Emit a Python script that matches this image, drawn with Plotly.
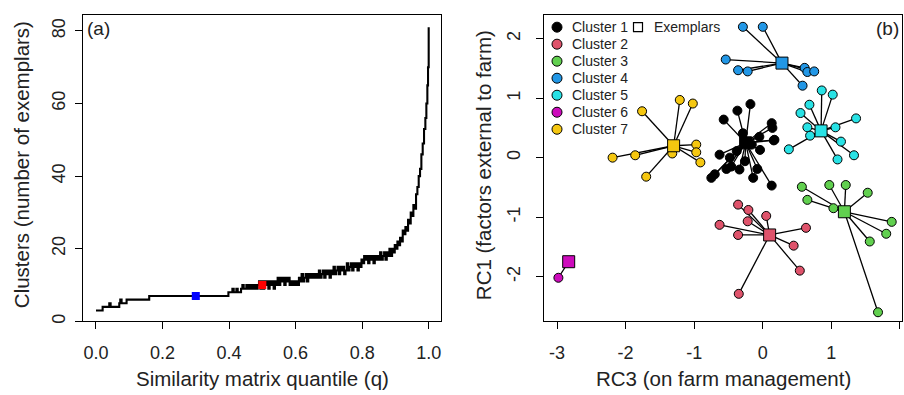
import plotly.graph_objects as go

# ---------------- Panel (a) data ----------------
q_vals = [0.000, 0.020, 0.040, 0.044, 0.070, 0.073, 0.077, 0.092, 0.160, 0.398,
          0.410, 0.414, 0.422, 0.426, 0.436, 0.440, 0.444, 0.452, 0.456, 0.462,
          0.466, 0.470, 0.474, 0.478, 0.482, 0.486, 0.490, 0.494, 0.498, 0.502,
          0.506, 0.510, 0.514, 0.518, 0.522, 0.526, 0.530, 0.534, 0.538, 0.542,
          0.546, 0.550, 0.554, 0.558, 0.562, 0.566, 0.570, 0.574, 0.578, 0.582,
          0.586, 0.590, 0.594, 0.598, 0.602, 0.606, 0.610, 0.614, 0.618, 0.622,
          0.626, 0.630, 0.634, 0.638, 0.642, 0.646, 0.650, 0.654, 0.658, 0.662,
          0.666, 0.670, 0.674, 0.678, 0.682, 0.686, 0.690, 0.694, 0.698, 0.702,
          0.706, 0.710, 0.714, 0.718, 0.722, 0.726, 0.730, 0.734, 0.738, 0.742,
          0.746, 0.750, 0.754, 0.758, 0.762, 0.766, 0.770, 0.774, 0.778, 0.782,
          0.786, 0.790, 0.794, 0.798, 0.802, 0.806, 0.810, 0.814, 0.818, 0.822,
          0.826, 0.830, 0.834, 0.838, 0.842, 0.846, 0.850, 0.854, 0.858, 0.862,
          0.866, 0.870, 0.874, 0.878, 0.882, 0.886, 0.890, 0.894, 0.898, 0.902,
          0.906, 0.910, 0.914, 0.918, 0.922, 0.926, 0.930, 0.934, 0.938, 0.942,
          0.946, 0.950, 0.954, 0.958, 0.962, 0.966, 0.970, 0.974, 0.978, 0.982,
          0.986, 0.990, 0.993, 0.996, 0.998, 1.000]
n_clusters = [3, 4, 5, 4, 5, 6, 5, 6, 7, 8,
              9, 8, 9, 8, 9, 10, 9, 10, 9, 10,
              9, 10, 9, 10, 9, 10, 11, 9, 11, 9,
              11, 10, 11, 9, 11, 10, 11, 9, 11, 10,
              12, 10, 12, 11, 12, 10, 12, 11, 12, 10,
              11, 10, 11, 10, 11, 10, 12, 11, 13, 11,
              12, 13, 11, 13, 12, 13, 12, 13, 12, 13,
              12, 14, 12, 13, 14, 12, 14, 13, 14, 12,
              14, 13, 15, 13, 14, 15, 13, 15, 14, 15,
              13, 14, 16, 14, 15, 16, 14, 16, 15, 16,
              14, 16, 15, 17, 16, 18, 17, 18, 16, 18,
              17, 18, 16, 18, 17, 18, 17, 19, 17, 18,
              19, 17, 19, 18, 20, 18, 20, 19, 21, 20,
              22, 21, 23, 22, 25, 24, 26, 25, 28, 27,
              30, 29, 32, 31, 35, 37, 40, 42, 46, 49,
              53, 56, 60, 65, 70, 81]
q_marked = [0.30, 0.50]
n_marked = [7, 10]
marked_colors = ["#0000FF", "#FF0000"]
xa_ticks = [0.0, 0.2, 0.4, 0.6, 0.8, 1.0]
xa_ticktext = ["0.0", "0.2", "0.4", "0.6", "0.8", "1.0"]
ya_ticks = [0, 20, 40, 60, 80]

# ---------------- Panel (b) data ----------------
cluster_names = ["Cluster 1", "Cluster 2", "Cluster 3", "Cluster 4",
                 "Cluster 5", "Cluster 6", "Cluster 7"]
cluster_colors = ["#000000", "#DF536B", "#61D04F", "#2297E6",
                  "#28E2E5", "#CD0BBC", "#F5C710"]

rc3_c1 = [-0.18, -0.37, -0.57, 0.13, 0.14, 0.16, -0.05, -0.29, -0.16, -0.63,
          -0.48, -0.46, -0.34, -0.53, -0.75, -0.70, -0.14, -0.08, 0.13, -0.26,
          -0.38, -0.04, 0.17]
rc1_c1 = [0.90, 0.79, 0.64, 0.58, 0.50, 0.29, 0.35, 0.41, 0.22, 0.05,
          0.00, -0.15, -0.20, -0.19, -0.34, -0.28, -0.34, -0.19, -0.47, -0.06,
          0.11, 0.13, 0.30]
rc3_c2 = [-0.36, -0.21, -0.22, 0.05, -0.63, -0.36, 0.63, 0.45, 0.54, -0.35]
rc1_c2 = [-0.79, -0.88, -1.07, -0.98, -1.13, -1.30, -1.18, -1.48, -1.90, -2.29]
rc3_c3 = [0.57, 0.65, 0.97, 1.21, 1.53, 1.03, 1.88, 1.80, 1.56, 1.68]
rc1_c3 = [-0.49, -0.71, -0.46, -0.46, -0.59, -0.85, -1.08, -1.28, -1.41, -2.60]
rc3_c4 = [-0.29, 0.00, -0.54, -0.36, -0.22, 0.61, 0.65, 0.75, 0.58]
rc1_c4 = [2.20, 2.20, 1.65, 1.47, 1.45, 1.51, 1.44, 1.45, 1.21]
rc3_c5 = [0.86, 1.02, 0.68, 0.55, 1.36, 0.65, 1.06, 0.69, 0.38, 1.14, 1.09, 1.33]
rc1_c5 = [1.13, 1.06, 0.89, 0.75, 0.66, 0.51, 0.51, 0.37, 0.14, 0.27, -0.03, 0.04]
rc3_c6 = [-2.98]
rc1_c6 = [-2.02]
rc3_c7 = [-1.76, -1.21, -1.02, -0.97, -0.97, -0.91, -1.32, -1.86, -2.19, -1.70]
rc1_c7 = [0.78, 0.97, 0.91, 0.22, 0.09, -0.08, 0.07, 0.04, 0.00, -0.32]

exemplar_rc3 = [-0.25, 0.10, 1.19, 0.28, 0.85, -2.83, -1.30]
exemplar_rc1 = [0.25, -1.30, -0.91, 1.59, 0.45, -1.75, 0.20]

xb_ticks = [-3, -2, -1, 0, 1, 2]
xb_ticktext = ["-3", "-2", "-1", "0", "1", "2"]
yb_ticks = [-2, -1, 0, 1, 2]
yb_ticktext = ["-2", "-1", "0", "1", "2"]

rc3_all = [rc3_c1, rc3_c2, rc3_c3, rc3_c4, rc3_c5, rc3_c6, rc3_c7]
rc1_all = [rc1_c1, rc1_c2, rc1_c3, rc1_c4, rc1_c5, rc1_c6, rc1_c7]

# ---------------- Figure ----------------
W, H = 904, 395
FONT = "Liberation Sans, Arial, sans-serif"
fig = go.Figure()

# panel (a)
fig.add_trace(go.Scatter(x=q_vals, y=n_clusters, mode="lines", line_shape="hv",
                         line=dict(color="black", width=2.1),
                         xaxis="x", yaxis="y", showlegend=False, hoverinfo="skip"))
fig.add_trace(go.Scatter(x=q_marked, y=n_marked, mode="markers",
                         marker=dict(symbol="square", size=8, color=marked_colors,
                                     line=dict(width=0)),
                         xaxis="x", yaxis="y", showlegend=False))

# panel (b): spokes
for k in range(7):
    lx, ly = [], []
    for xv, yv in zip(rc3_all[k], rc1_all[k]):
        lx += [exemplar_rc3[k], xv, None]
        ly += [exemplar_rc1[k], yv, None]
    fig.add_trace(go.Scatter(x=lx, y=ly, mode="lines",
                             line=dict(color="black", width=1.3),
                             xaxis="x2", yaxis="y2", showlegend=False, hoverinfo="skip"))
# points
for k in range(7):
    fig.add_trace(go.Scatter(x=rc3_all[k], y=rc1_all[k], mode="markers",
                             marker=dict(symbol="circle", size=9, color=cluster_colors[k],
                                         line=dict(color="black", width=1)),
                             xaxis="x2", yaxis="y2", showlegend=False, name=cluster_names[k]))
# exemplars
fig.add_trace(go.Scatter(x=exemplar_rc3, y=exemplar_rc1, mode="markers",
                         marker=dict(symbol="square", size=12, color=cluster_colors,
                                     line=dict(color="black", width=1)),
                         xaxis="x2", yaxis="y2", showlegend=False, name="Exemplars"))

# manual legend on an overlay pixel axis (x3/y3) covering panel (b)
BOX_L, BOX_R, BOX_T, BOX_B = 544, 902, 15, 323
row0, rowgap = 12.3, 17.1
leg_y = [row0 + i * rowgap for i in range(len(cluster_names))]
fig.add_trace(go.Scatter(x=[13] * len(cluster_names), y=leg_y, mode="markers",
                         marker=dict(symbol="circle", size=10, color=cluster_colors,
                                     line=dict(color="black", width=1)),
                         xaxis="x3", yaxis="y3", showlegend=False, hoverinfo="skip"))
fig.add_trace(go.Scatter(x=[94], y=[row0], mode="markers",
                         marker=dict(symbol="square", size=9, color="white",
                                     line=dict(color="black", width=1.2)),
                         xaxis="x3", yaxis="y3", showlegend=False, hoverinfo="skip"))
annotations = []
for i, name in enumerate(cluster_names):
    annotations.append(dict(x=26, y=leg_y[i], xref="x3", yref="y3", text=name,
                            showarrow=False, xanchor="left", yanchor="middle",
                            font=dict(size=14, color="#222", family=FONT)))
annotations.append(dict(x=108, y=row0, xref="x3", yref="y3", text="Exemplars",
                        showarrow=False, xanchor="left", yanchor="middle",
                        font=dict(size=14, color="#222", family=FONT)))

def px(xp):
    return xp / W

def py(yp):
    return 1 - yp / H

title_font = dict(size=20.5, color="#222", family=FONT)
label_font = dict(size=19, color="#222", family=FONT)
annotations += [
    dict(x=px(85), y=py(29), xref="paper", yref="paper", text="(a)", showarrow=False,
         xanchor="left", yanchor="middle", font=label_font),
    dict(x=px(901), y=py(29), xref="paper", yref="paper", text="(b)", showarrow=False,
         xanchor="right", yanchor="middle", font=label_font),
    dict(x=px(21), y=py(166), xref="paper", yref="paper", text="Clusters (number of exemplars)",
         showarrow=False, textangle=-90, xanchor="center", yanchor="middle", font=title_font),
    dict(x=px(262), y=py(380), xref="paper", yref="paper", text="Similarity matrix quantile (q)",
         showarrow=False, xanchor="center", yanchor="middle", font=title_font),
    dict(x=px(483), y=py(166), xref="paper", yref="paper", text="RC1 (factors external to farm)",
         showarrow=False, textangle=-90, xanchor="center", yanchor="middle", font=title_font),
    dict(x=px(723), y=py(380), xref="paper", yref="paper", text="RC3 (on farm management)",
         showarrow=False, xanchor="center", yanchor="middle", font=title_font),
]

ydom = [1 - BOX_B / H, 1 - BOX_T / H]
axis_common = dict(showline=True, mirror=True, linecolor="black", linewidth=1,
                   ticks="outside", ticklen=7, tickwidth=1, tickcolor="black",
                   showgrid=False, zeroline=False,
                   tickfont=dict(size=18, color="#222", family=FONT))

fig.update_layout(
    width=W, height=H, margin=dict(l=0, r=0, t=0, b=0),
    paper_bgcolor="white", plot_bgcolor="white", showlegend=False,
    xaxis=dict(domain=[83 / W, 441 / W], range=[-0.039, 1.037], anchor="y",
               tickvals=xa_ticks, ticktext=xa_ticktext, ticklabelstandoff=8, **axis_common),
    yaxis=dict(domain=ydom, range=[0, 84.4], anchor="x", tickvals=ya_ticks,
               tickangle=-90, ticklabelstandoff=3, **axis_common),
    xaxis2=dict(domain=[BOX_L / W, BOX_R / W], range=[-3.19, 2.03], anchor="y2",
                tickvals=xb_ticks, ticktext=xb_ticktext, ticklabelstandoff=8, **axis_common),
    yaxis2=dict(domain=ydom, range=[-2.753, 2.40], anchor="x2", tickvals=yb_ticks,
                ticktext=yb_ticktext, tickangle=-90, ticklabelstandoff=9, **axis_common),
    xaxis3=dict(range=[0, BOX_R - BOX_L], anchor="y3", overlaying="x2",
                visible=False, fixedrange=True),
    yaxis3=dict(range=[BOX_B - BOX_T, 0], anchor="x3", overlaying="y2",
                visible=False, fixedrange=True),
    annotations=annotations,
)

fig.write_html("out.html", config={"displayModeBar": False},
               post_script="document.body.style.margin='0';document.body.style.overflow='hidden';")
